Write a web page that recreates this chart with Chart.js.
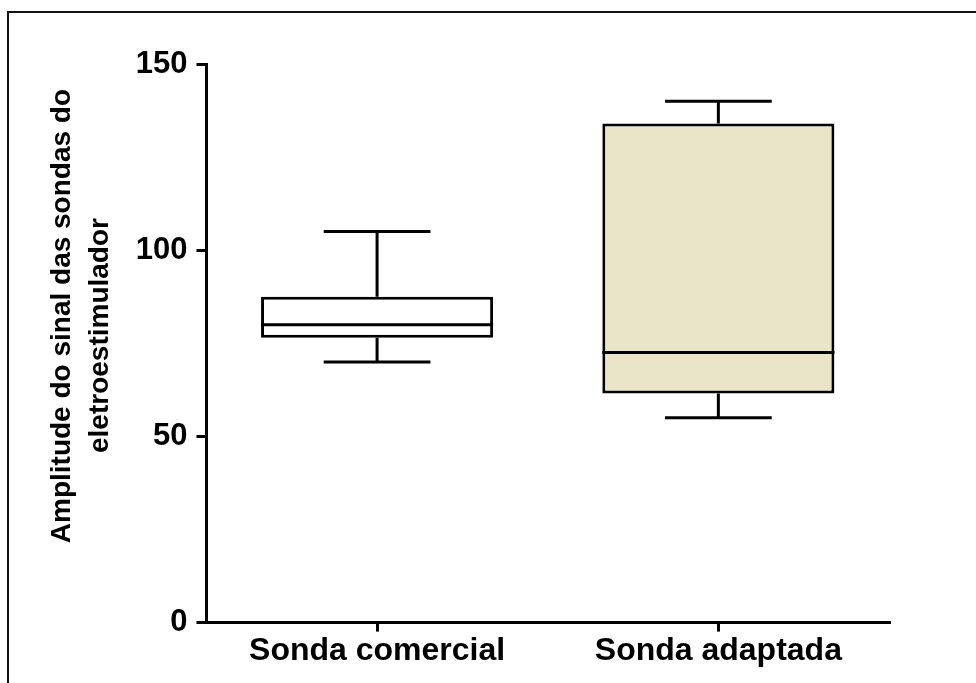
<!DOCTYPE html>
<html>
<head>
<meta charset="utf-8">
<script src="https://cdn.jsdelivr.net/npm/chart.js@4/dist/chart.umd.min.js"></script>
<style>
	html, body { margin: 0; padding: 0; background: #fff; }
	#wrap { position: relative; width: 976px; height: 683px; overflow: hidden; }
	#frame {
		position: absolute; left: 7px; top: 11px; width: 1000px; height: 700px;
		border-left: 2px solid #111; border-top: 2px solid #111;
	}
	#chart { position: absolute; left: 0; top: 0; }
</style>
</head>
<body>
<div id="wrap">
	<div id="frame"></div>
	<canvas id="chart" width="976" height="683"></canvas>
</div>
<script>
const categories = [ 'Sonda comercial', 'Sonda adaptada' ];
const whiskerLow = [ 70, 55 ];
const quartile1 = [ 76.5, 61.5 ];
const medians = [ 80, 72.5 ];
const quartile3 = [ 87.5, 134 ];
const whiskerHigh = [ 105, 140 ];
const boxColors = [ '#ffffff', '#EAE5C9' ];
const yTicks = [ 0, 50, 100, 150 ];
// leading spaces nudge the first title line up, as in the original
const yTitle = [ '       Amplitude do sinal das sondas do', '  eletroestimulador' ];

const boxWhiskers = {
	id: 'boxWhiskers',
	afterDatasetsDraw( chart ) {
		const ctx = chart.ctx;
		const y = chart.scales.y;
		const meta = chart.getDatasetMeta( 0 );
		ctx.save();
		ctx.strokeStyle = '#000';
		ctx.lineWidth = 3;
		ctx.lineCap = 'butt';
		meta.data.forEach( ( bar, i ) => {
			const cx = bar.x;
			const half = bar.width / 2;
			const cap = bar.width * 0.23;
			const yMed = y.getPixelForValue( medians[ i ] );
			const yLo = y.getPixelForValue( whiskerLow[ i ] );
			const yHi = y.getPixelForValue( whiskerHigh[ i ] );
			const yQ1 = y.getPixelForValue( quartile1[ i ] );
			const yQ3 = y.getPixelForValue( quartile3[ i ] );
			ctx.beginPath();
			// median
			ctx.moveTo( cx - half, yMed );
			ctx.lineTo( cx + half, yMed );
			// whiskers
			ctx.moveTo( cx, yQ3 );
			ctx.lineTo( cx, yHi );
			ctx.moveTo( cx - cap, yHi );
			ctx.lineTo( cx + cap, yHi );
			ctx.moveTo( cx, yQ1 );
			ctx.lineTo( cx, yLo );
			ctx.moveTo( cx - cap, yLo );
			ctx.lineTo( cx + cap, yLo );
			ctx.stroke();
		} );
		ctx.restore();
	},
};

const config = {
	type: 'bar',
	data: {
		labels: categories,
		datasets: [
			{
				data: categories.map( ( c, i ) => [ quartile1[ i ], quartile3[ i ] ] ),
				backgroundColor: boxColors,
				borderColor: '#000',
				borderWidth: 3,
				borderSkipped: false,
				barPercentage: 0.68,
				categoryPercentage: 1,
			},
		],
	},
	options: {
		responsive: false,
		animation: false,
		layout: { padding: { left: 43, right: 87, top: 64, bottom: 13 } },
		plugins: {
			legend: { display: false },
			tooltip: { enabled: false },
		},
		scales: {
			x: {
				offset: true,
				grid: {
					drawOnChartArea: false,
					drawTicks: true,
					tickLength: 9,
					lineWidth: 3,
					color: '#000',
					offset: false,
				},
				border: { color: '#000', width: 3 },
				ticks: {
					color: '#000',
					padding: 0,
					font: { family: 'Liberation Sans', size: 32, weight: 'bold' },
				},
			},
			y: {
				min: 0,
				max: 150,
				afterBuildTicks: ( scale ) => {
					scale.ticks = yTicks.map( ( v ) => ( { value: v } ) );
				},
				grid: {
					drawOnChartArea: false,
					drawTicks: true,
					tickLength: 10,
					lineWidth: 3,
					color: '#000',
				},
				border: { color: '#000', width: 3 },
				ticks: {
					color: '#000',
					padding: 9,
					font: { family: 'Liberation Sans', size: 31, weight: 'bold' },
				},
				title: {
					display: true,
					text: yTitle,
					color: '#000',
					padding: { top: 0, bottom: 7 },
					font: { family: 'Liberation Sans', size: 28, weight: 'bold', lineHeight: 1.37 },
				},
			},
		},
	},
	plugins: [ boxWhiskers ],
};

new Chart( document.getElementById( 'chart' ), config );
</script>
</body>
</html>
